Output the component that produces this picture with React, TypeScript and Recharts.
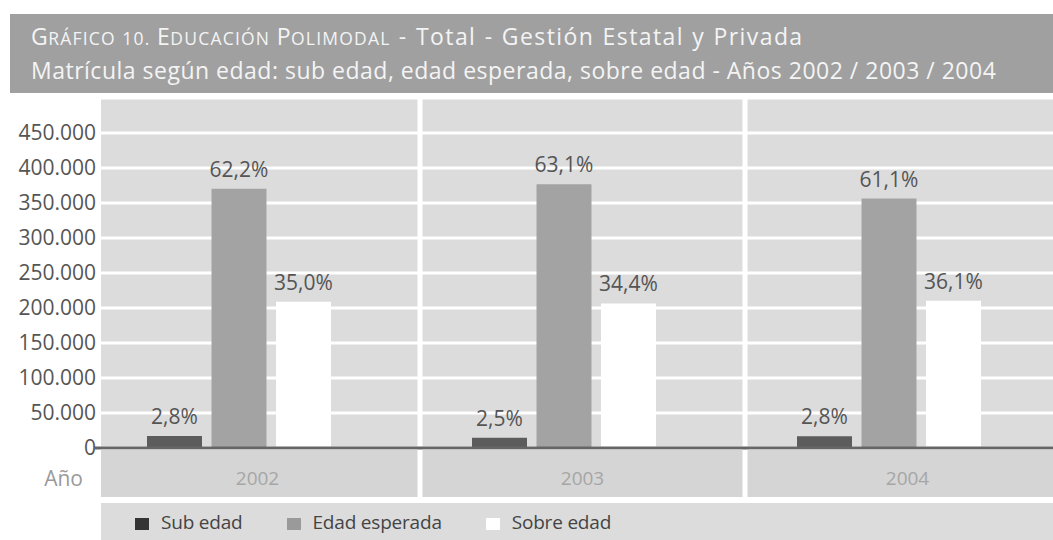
import React from 'react';
import { BarChart, Bar, XAxis, YAxis, CartesianGrid, LabelList } from 'recharts';

// valores
const years = ['2002', '2003', '2004'];
const subEdad = [17000, 14800, 16800];
const edadEsperada = [370500, 376700, 356300];
const sobreEdad = [209000, 206500, 210500];
const subPct = ['2,8%', '2,5%', '2,8%'];
const esperadaPct = ['62,2%', '63,1%', '61,1%'];
const sobrePct = ['35,0%', '34,4%', '36,1%'];
const yTicks = [0, 50000, 100000, 150000, 200000, 250000, 300000, 350000, 400000, 450000];

const data = years.map((year, i) => ({
  year,
  sub: subEdad[i],
  esp: edadEsperada[i],
  sobre: sobreEdad[i],
  subPct: subPct[i],
  espPct: esperadaPct[i],
  sobrePct: sobrePct[i],
}));

const series = [
  { key: 'sub', pct: 'subPct', name: 'Sub edad', color: '#5c5c5c', legend: '#343434' },
  { key: 'esp', pct: 'espPct', name: 'Edad esperada', color: '#a3a3a3', legend: '#9a9a9a' },
  { key: 'sobre', pct: 'sobrePct', name: 'Sobre edad', color: '#ffffff', legend: '#ffffff' },
];

const FONT = '"Open Sans", sans-serif';
const CHART_W = 1070;
const CHART_H = 540;
const Y_W = 95;
const X_H = 49;
const bandW = (CHART_W - Y_W) / years.length;

const fmt = (v: number) => String(v).replace(/\B(?=(\d{3})+(?!\d))/g, '.');

// separadores verticales entre años
const bandEdges = ({ offset }: any) =>
  years.slice(1).map((_, i) => offset.left + (offset.width * (i + 1)) / years.length);

function YearTick(props: any) {
  const { x, y, payload, index } = props;
  const left = index === 0 ? 6 : 2.5;
  const x0 = x - bandW / 2;
  return (
    <g>
      <rect x={x0 + left} y={y + 1.5} width={bandW - left - 2.5} height={X_H - 1.5} fill="#d5d5d5" />
      <text x={x} y={y + 37} textAnchor="middle" fill="#a6a6a6" fontSize={19} fontFamily={FONT}>
        {payload.value}
      </text>
    </g>
  );
}

// versalitas a mano: inicial grande, resto en mayúsculas chicas
function SmallCaps({ text }: { text: string }) {
  return (
    <>
      {text.split(' ').map((w, i) => (
        <span key={i}>
          {i > 0 ? ' ' : ''}
          {/^[A-ZÁÉÍÓÚ]/.test(w) ? w[0] : ''}
          <span style={{ fontSize: 17.5, textTransform: 'uppercase', letterSpacing: 1.2 }}>
            {/^[A-ZÁÉÍÓÚ]/.test(w) ? w.slice(1) : w}
          </span>
        </span>
      ))}
    </>
  );
}

export default function App() {
  return (
    <div style={{ position: 'fixed', left: 0, top: 0, width: 1053, height: 540, overflow: 'hidden', background: '#fff', fontFamily: FONT }}>
      <div
        style={{
          position: 'absolute', left: 10, top: 14, width: 1043, height: 79, background: '#a0a0a0',
          color: '#f4f4f4', fontSize: 23, letterSpacing: 0.5, lineHeight: '32px', paddingLeft: 21, paddingTop: 6,
          boxSizing: 'border-box', whiteSpace: 'nowrap',
        }}
      >
        <div>
          <SmallCaps text="Gráfico 10. Educación Polimodal" />
          <span style={{ letterSpacing: 1.4, wordSpacing: 1 }}> - Total - Gestión Estatal y Privada</span>
        </div>
        <div>Matrícula según edad: sub edad, edad esperada, sobre edad - Años 2002 / 2003 / 2004</div>
      </div>

      <div style={{ position: 'absolute', left: 0, top: 0 }}>
        <BarChart
          width={CHART_W}
          height={CHART_H}
          data={data}
          margin={{ top: 98, right: 0, bottom: 43, left: 0 }}
          barGap={9.5}
          barCategoryGap={0}
        >
          <CartesianGrid fill="#dcdcdc" fillOpacity={1} stroke="#ffffff" strokeWidth={3} vertical={false} />
          <CartesianGrid stroke="#ffffff" strokeWidth={5} horizontal={false} verticalCoordinatesGenerator={bandEdges} />
          {series.map((s) => (
            <Bar key={s.key} dataKey={s.key} name={s.name} fill={s.color} barSize={55} isAnimationActive={false}>
              <LabelList dataKey={s.pct} position="top" offset={12} fill="#555" fontSize={21} fontFamily={FONT} />
            </Bar>
          ))}
          {/* serie vacía para correr el grupo a la izquierda */}
          <Bar dataKey={() => 0} fill="transparent" barSize={28} legendType="none" isAnimationActive={false} />
          <YAxis
            width={Y_W}
            domain={[0, 500000]}
            ticks={yTicks}
            interval={0}
            tickFormatter={fmt}
            axisLine={{ stroke: '#fff', strokeWidth: 12 }}
            tickLine={false}
            tickSize={0}
            tickMargin={-1}
            tick={{ fill: '#555', fontSize: 21, fontFamily: FONT }}
          />
          <XAxis
            dataKey="year"
            height={X_H}
            interval={0}
            axisLine={{ stroke: '#666', strokeWidth: 3 }}
            tickLine={false}
            tickSize={0}
            tickMargin={0}
            tick={<YearTick />}
          />
        </BarChart>
      </div>

      <div style={{ position: 'absolute', right: 1053 - 83, top: 466, fontSize: 21, color: '#9a9a9a', lineHeight: '24px' }}>Año</div>

      <div
        style={{
          position: 'absolute', left: 101, top: 503, width: 952, height: 37, background: '#dcdcdc',
          display: 'flex', alignItems: 'center', paddingLeft: 34, boxSizing: 'border-box', gap: 44,
        }}
      >
        {series.map((s) => (
          <div key={s.key} style={{ display: 'flex', alignItems: 'center' }}>
            <span style={{ display: 'inline-block', width: 14, height: 12, background: s.legend, marginRight: 12, marginTop: 4 }} />
            <span style={{ fontSize: 19, letterSpacing: -0.2, color: '#444', lineHeight: '24px' }}>{s.name}</span>
          </div>
        ))}
      </div>
    </div>
  );
}
